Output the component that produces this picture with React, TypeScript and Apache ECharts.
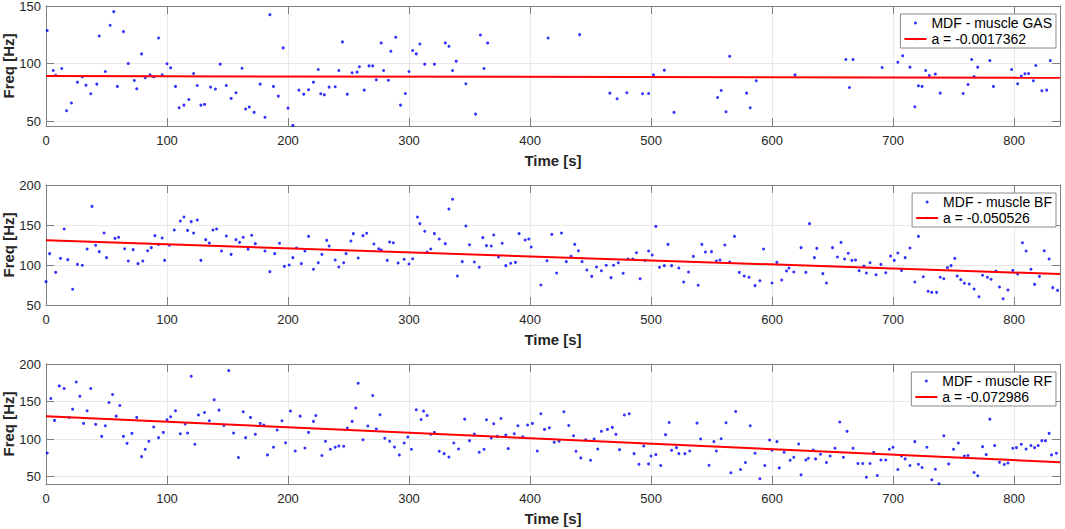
import React, { useEffect, useRef } from "react";
import * as echarts from "echarts";

// ---------------- data ----------------
const timeTicks = [0, 100, 200, 300, 400, 500, 600, 700, 800];
const timeMax = 838;

const gasLabel = "MDF - muscle GAS";
const gasFitLabel = "a = -0.0017362";
const gasSlope = -0.0017362;
const gasIntercept = 89.3;
const gasTicks = [50, 100, 150];
const gasTime = [
  1, 6, 8, 13, 17, 21, 26, 30, 33, 37, 42, 44, 49, 53, 56, 59, 64, 68, 73, 75,
  79, 82, 86, 89, 93, 96, 100, 103, 107, 110, 114, 118, 122, 125, 128, 131, 136, 140, 144, 149,
  153, 157, 162, 165, 168, 172, 177, 181, 185, 188, 192, 196, 200, 204, 209, 213, 217, 221, 225, 227,
  230, 234, 239, 242, 245, 249, 253, 257, 259, 263, 267, 270, 273, 277, 279, 283, 285, 289, 293, 297,
  300, 303, 306, 309, 313, 321, 330, 333, 336, 339, 347, 355, 359, 362, 365, 415, 441, 466, 472, 480,
  493, 498, 502, 511, 519, 555, 558, 562, 565, 579, 582, 587, 619, 661, 664, 667, 691, 704, 708, 714,
  718, 721, 724, 727, 730, 735, 739, 758, 762, 765, 767, 770, 780, 783, 798, 803, 806, 809, 812, 816,
  818, 823, 827, 830,
];
const gasFreq = [
  128.7, 94.1, 90, 95.8, 59.2, 65.9, 84, 88.6, 81.4, 73.9, 82.3, 124, 93.2, 133.3, 145.1, 80.3, 127.8, 100.1, 85.4, 78.2,
  108.5, 87.8, 90.3, 88.6, 122.3, 90.3, 99.9, 96.4, 80.3, 61.8, 64.1, 69, 91.5, 81.1, 64.1, 64.7, 79.7, 78, 99.6, 81.1,
  69.9, 74.8, 96.1, 60.7, 62.4, 57.8, 82.3, 53.5, 142.5, 80.3, 71.9, 113.7, 61.5, 46.5, 77.1, 73.6, 77.4, 84, 95, 73.9,
  73, 79.7, 80, 94.1, 118.9, 73.6, 92.2, 92.7, 97.3, 77.1, 98.1, 98.1, 86, 118, 94.1, 85.7, 110.8, 122.9, 64.1, 74.2,
  93.2, 111.4, 108.5, 117.1, 99.6, 99.6, 118, 115.1, 94.1, 102.2, 82.6, 56.3, 124.9, 95.8, 118, 122.3, 125.2, 74.5, 69.6, 74.8,
  73.9, 74.2, 90.3, 94.4, 57.8, 70.7, 76.8, 58.4, 106.5, 74.5, 61.8, 85.2, 90.3, 103.6, 79.4, 103.6, 96.7, 101.3, 106.8, 97,
  62.7, 80.8, 80.3, 94.1, 89.8, 91, 74.5, 74.2, 82, 103.6, 88.9, 97, 102.7, 80.3, 95, 82.6, 89.2, 91.2, 91.5, 85.2,
  98.4, 76.5, 77.1, 102.7,
];

const bfLabel = "MDF - muscle BF";
const bfFitLabel = "a = -0.050526";
const bfSlope = -0.050526;
const bfIntercept = 131;
const bfTicks = [50, 100, 150, 200];
const bfTime = [
  0, 3, 8, 12, 15, 18, 22, 26, 30, 34, 38, 41, 44, 48, 50, 57, 60, 65, 68, 72,
  76, 80, 84, 87, 90, 93, 96, 98, 102, 106, 111, 114, 117, 120, 122, 125, 128, 132, 135, 138,
  141, 145, 149, 153, 157, 160, 163, 167, 170, 173, 181, 185, 189, 193, 197, 201, 204, 207, 211, 214,
  217, 221, 225, 228, 232, 234, 239, 242, 246, 248, 252, 254, 258, 262, 265, 271, 275, 277, 282, 284,
  287, 291, 296, 300, 303, 307, 309, 313, 315, 318, 321, 325, 330, 333, 336, 340, 344, 347, 350, 354,
  358, 361, 364, 368, 370, 374, 377, 380, 384, 388, 391, 396, 399, 401, 409, 414, 418, 422, 426, 430,
  434, 437, 440, 443, 447, 451, 455, 459, 463, 467, 469, 473, 477, 481, 485, 488, 491, 495, 498, 501,
  504, 507, 511, 514, 517, 523, 527, 531, 535, 539, 542, 545, 550, 554, 557, 561, 565, 569, 573, 577,
  581, 586, 590, 593, 600, 604, 608, 612, 614, 618, 624, 628, 631, 635, 637, 642, 645, 650, 654, 657,
  660, 663, 666, 669, 672, 676, 678, 681, 686, 690, 694, 698, 701, 704, 707, 710, 714, 718, 721, 725,
  729, 732, 736, 739, 742, 745, 748, 751, 753, 756, 759, 763, 767, 771, 774, 778, 781, 785, 788, 791,
  795, 799, 803, 807, 810, 814, 817, 821, 825, 829, 832, 836,
];
const bfFreq = [
  79.2, 114.2, 90.8, 108.3, 145, 106.7, 69.6, 100.8, 99.6, 120, 173.3, 124.6, 116.7, 140, 109.2, 133.3, 134.6, 120.4, 105, 119.2,
  101.7, 105, 117.9, 121.7, 136.7, 125.8, 133.8, 105.8, 124.6, 143.8, 155, 160, 143.3, 154.2, 140, 156.3, 105.8, 131.7, 127.5, 143.8,
  145, 117.5, 136.3, 113.3, 131.7, 128.3, 134.6, 119.6, 137.1, 126.7, 117.5, 91.7, 114.2, 127.1, 98.3, 100, 109.2, 121.3, 101.7, 117.5,
  135.8, 94.6, 102.9, 113.3, 130.8, 123.8, 106.3, 97.5, 102.9, 114.2, 130, 139.2, 108.8, 136.7, 139.6, 126.3, 120.4, 118.8, 105.8, 128.8,
  127.9, 102.5, 107.1, 101.3, 107.9, 160, 151.7, 142.1, 116.3, 120, 139.2, 132.5, 126.7, 170, 182.1, 86.3, 104.2, 148.8, 125.4, 103.8,
  97.1, 134.2, 124.2, 123.8, 137.5, 110, 127.1, 99.2, 102.1, 103.3, 139.2, 131.3, 132.5, 122.5, 75, 105.4, 138.3, 90, 140, 104.2,
  110.8, 125.8, 117.9, 104.2, 93.8, 85.8, 97.5, 92.9, 99.6, 84.2, 99.6, 102.9, 89.6, 107.5, 107.5, 115.4, 82.9, 105.8, 117.5, 112.5,
  148.3, 97.1, 99.2, 125.8, 99.2, 96.3, 78.8, 91.3, 110.8, 74.6, 125.8, 116.3, 116.7, 105, 106.3, 125, 103.8, 135.8, 90.8, 86.3,
  84.6, 74.2, 80.4, 120, 77.5, 103.3, 81.3, 92.5, 96.3, 91.3, 121.7, 90.8, 151.7, 109.2, 120.8, 89.2, 77.5, 121.7, 110, 128.3,
  107.5, 114.6, 105.8, 106.3, 92.9, 98.8, 90, 102.9, 87.9, 100.8, 90.4, 111.3, 105.8, 115, 93.3, 109.2, 121.3, 78.8, 135.8, 85.4,
  67.1, 65.8, 65.8, 84.6, 82.9, 96.7, 99.2, 108.3, 86.3, 81.7, 77.1, 76.3, 70, 60.4, 87.1, 84.6, 82.1, 92.5, 72.5, 57.9,
  68.8, 93.3, 88.8, 127.9, 117.5, 94.6, 75.8, 85.8, 117.9, 107.5, 71.7, 68.3,
];

const rfLabel = "MDF - muscle RF";
const rfFitLabel = "a = -0.072986";
const rfSlope = -0.072986;
const rfIntercept = 130.2;
const rfTicks = [50, 100, 150, 200];
const rfTime = [
  1, 4, 7, 11, 15, 19, 22, 25, 28, 31, 34, 37, 41, 46, 49, 52, 55, 58, 61, 64,
  67, 71, 75, 79, 82, 85, 89, 93, 97, 100, 103, 107, 111, 115, 117, 120, 123, 126, 131, 135,
  139, 143, 147, 151, 155, 159, 163, 165, 169, 173, 177, 180, 183, 188, 191, 195, 198, 202, 206, 210,
  214, 217, 221, 223, 228, 231, 235, 239, 242, 246, 249, 253, 256, 258, 262, 266, 270, 273, 276, 280,
  284, 288, 292, 296, 299, 302, 306, 310, 312, 315, 318, 321, 325, 329, 333, 337, 341, 346, 350, 354,
  358, 362, 364, 368, 370, 373, 376, 380, 382, 387, 390, 394, 398, 402, 406, 409, 412, 416, 420, 424,
  428, 432, 436, 438, 442, 446, 450, 453, 456, 459, 464, 468, 471, 474, 478, 482, 486, 490, 494, 498,
  500, 504, 508, 512, 515, 517, 521, 523, 528, 532, 538, 541, 548, 552, 554, 558, 562, 566, 570, 574,
  578, 582, 586, 590, 594, 598, 600, 604, 606, 610, 615, 618, 622, 624, 628, 630, 634, 636, 640, 645,
  648, 652, 656, 659, 662, 667, 671, 675, 678, 681, 684, 687, 690, 694, 697, 700, 704, 707, 710, 714,
  718, 721, 724, 728, 732, 735, 738, 742, 746, 750, 754, 759, 762, 767, 770, 774, 777, 780, 784, 788,
  792, 795, 799, 802, 806, 810, 814, 817, 820, 823, 826, 829, 831, 835,
];
const rfFreq = [
  81.4, 154, 124.8, 170.8, 167.3, 128.8, 139.8, 176.1, 157.1, 120.8, 137.6, 167.3, 119.5, 103.5, 117.7, 148.7, 159.3, 130.5, 144.7, 103.5,
  94.2, 107.5, 128.8, 76.5, 86.3, 96.9, 115.9, 101.8, 108.8, 125.7, 129.6, 137.6, 107.1, 119.9, 108, 183.6, 92.9, 131.9, 135.4, 124.3,
  152.2, 138.5, 118.1, 191.2, 108, 75.2, 136.3, 101.8, 128.8, 106.2, 120.8, 118.6, 78.8, 88.9, 111.9, 124.3, 95.1, 137.2, 84.1, 130.5,
  88, 108.8, 123.5, 131.4, 77.9, 96.9, 86.3, 88.9, 90.7, 90.3, 114.6, 123.5, 141.2, 174.3, 99.1, 117.3, 158, 113.3, 132.3, 100.9,
  96.9, 89.4, 78.8, 94.7, 102.7, 86.3, 138.9, 126.1, 137.2, 131.4, 106.2, 108.8, 83.6, 80.5, 76.1, 94.7, 86.7, 126.5, 97.8, 106.6,
  82.3, 86.3, 125.7, 101.3, 120.4, 103.5, 127.4, 105.3, 87.2, 107.1, 117.7, 103.1, 118.6, 120.8, 84.1, 133.6, 112.8, 115, 95.6, 96.9,
  136.3, 118.1, 104.4, 83.6, 74.8, 99.1, 71.7, 100, 86.7, 110.2, 112.8, 115.5, 106.2, 85.8, 131.9, 133.6, 80.5, 66.4, 90.7, 66.8,
  77.4, 79.2, 64.6, 105.8, 122.1, 85, 88.5, 80.5, 80.5, 84.1, 121.2, 100, 65, 96.5, 84.1, 100.4, 121.7, 54.9, 136.7, 59.3,
  68.6, 117.7, 81, 46.9, 64.6, 98.7, 85, 96.5, 61.5, 82.3, 71.7, 75.7, 93.4, 52.2, 72.1, 74.3, 85.4, 73.5, 79.6, 68.6,
  77.4, 87.6, 122.6, 75.7, 110.2, 87.6, 67.3, 67.3, 49.1, 67.3, 82.3, 51.3, 72.1, 72.1, 86.3, 88.9, 59.3, 77.4, 73.5, 64.6,
  96.5, 66.4, 61.9, 88.9, 45.6, 59.7, 40.3, 104.4, 66.8, 86.3, 94.7, 77.4, 77.9, 55.3, 50.9, 89.8, 79.2, 126.5, 91.2, 69,
  65.9, 68.1, 87.6, 88.5, 92.9, 86.7, 91.2, 88.5, 91.2, 97.8, 97.8, 107.5, 78.8, 81,
];

// ---------------- layout / style ----------------
const FONT = "'Liberation Sans', Arial, Helvetica, sans-serif";
const AXIS_COLOR = "#7f7f7f";
const GRID_COLOR = "#e8e8e8";
const TEXT_COLOR = "#262626";

const panels = [
  { label: gasLabel, fitLabel: gasFitLabel, time: gasTime, freq: gasFreq, slope: gasSlope, intercept: gasIntercept, yMin: 46, yMax: 150, yTicks: gasTicks, top: 6 },
  { label: bfLabel, fitLabel: bfFitLabel, time: bfTime, freq: bfFreq, slope: bfSlope, intercept: bfIntercept, yMin: 50, yMax: 200, yTicks: bfTicks, top: 185 },
  { label: rfLabel, fitLabel: rfFitLabel, time: rfTime, freq: rfFreq, slope: rfSlope, intercept: rfIntercept, yMin: 40, yMax: 200, yTicks: rfTicks, top: 364 },
];

function buildOption() {
  const grid: any[] = [];
  const xAxis: any[] = [];
  const yAxis: any[] = [];
  const series: any[] = [];
  const legend: any[] = [];

  panels.forEach((p, i) => {
    grid.push({ left: 46, right: 5, top: p.top, height: 120, containLabel: false, outerBoundsMode: "none" });

    const boxLine = { show: true, onZero: false, lineStyle: { color: AXIS_COLOR, width: 1 } };

    xAxis.push({
      type: "value",
      gridIndex: i,
      min: 0,
      max: timeMax,
      position: "bottom",
      name: "Time [s]",
      nameLocation: "middle",
      nameGap: 27,
      nameMoveOverlap: false,
      nameTextStyle: { fontSize: 15, fontWeight: "bold", color: TEXT_COLOR, fontFamily: FONT },
      axisLine: boxLine,
      axisTick: { show: true, inside: true, length: 8, customValues: timeTicks, lineStyle: { color: AXIS_COLOR } },
      axisLabel: { show: true, customValues: timeTicks, fontSize: 13, color: TEXT_COLOR, margin: 8, fontFamily: FONT },
      splitLine: { show: true, lineStyle: { color: GRID_COLOR, width: 1 } },
    });
    xAxis.push({
      type: "value",
      gridIndex: i,
      min: 0,
      max: timeMax,
      position: "top",
      axisLine: boxLine,
      axisTick: { show: true, inside: true, length: 8, customValues: timeTicks, lineStyle: { color: AXIS_COLOR } },
      axisLabel: { show: false },
      splitLine: { show: false },
    });

    yAxis.push({
      type: "value",
      gridIndex: i,
      min: p.yMin,
      max: p.yMax,
      position: "left",
      name: "Freq [Hz]",
      nameLocation: "middle",
      nameGap: 30,
      nameMoveOverlap: false,
      nameTextStyle: { fontSize: 15, fontWeight: "bold", color: TEXT_COLOR, fontFamily: FONT },
      axisLine: boxLine,
      axisTick: { show: true, inside: true, length: 8, customValues: p.yTicks, lineStyle: { color: AXIS_COLOR } },
      axisLabel: { show: true, customValues: p.yTicks, fontSize: 13, color: TEXT_COLOR, margin: 5, fontFamily: FONT },
      splitLine: { show: true, lineStyle: { color: GRID_COLOR, width: 1 } },
    });
    yAxis.push({
      type: "value",
      gridIndex: i,
      min: p.yMin,
      max: p.yMax,
      position: "right",
      axisLine: boxLine,
      axisTick: { show: true, inside: true, length: 8, customValues: p.yTicks, lineStyle: { color: AXIS_COLOR } },
      axisLabel: { show: false },
      splitLine: { show: false },
    });

    series.push({
      type: "scatter",
      name: p.label,
      xAxisIndex: i * 2,
      yAxisIndex: i * 2,
      data: p.time.map((t, k) => [t, p.freq[k]]),
      symbol: "circle",
      symbolSize: 3,
      itemStyle: { color: "#0000ff" },
      emphasis: { disabled: true },
    });
    series.push({
      type: "line",
      name: p.fitLabel,
      xAxisIndex: i * 2,
      yAxisIndex: i * 2,
      data: [
        [0, p.intercept],
        [timeMax, p.intercept + p.slope * timeMax],
      ],
      symbol: "none",
      lineStyle: { color: "#ff0000", width: 2 },
      itemStyle: { color: "#ff0000" },
      emphasis: { disabled: true },
    });

    legend.push({
      orient: "vertical",
      right: 9,
      top: p.top + 8,
      align: "left",
      data: [{ name: p.label, icon: "circle" }, { name: p.fitLabel }],
      itemWidth: 22,
      itemHeight: 3,
      itemGap: 0,
      padding: [1, 4, 1, 3],
      borderColor: "#8a8a8a",
      borderWidth: 1,
      borderRadius: 0,
      backgroundColor: "#ffffff",
      selectedMode: false,
      textStyle: { fontSize: 14, color: "#000000", fontFamily: FONT, lineHeight: 16 },
    });
  });

  return {
    animation: false,
    backgroundColor: "#ffffff",
    grid,
    xAxis,
    yAxis,
    series,
    legend,
  };
}

export default function App() {
  const ref = useRef<HTMLDivElement>(null);
  useEffect(() => {
    document.body.style.margin = "0";
    if (!ref.current) return;
    const chart = echarts.init(ref.current, null, { renderer: "svg" });
    chart.setOption(buildOption() as any);
    return () => {
      chart.dispose();
    };
  }, []);
  return <div ref={ref} style={{ width: 1065, height: 529 }} />;
}
